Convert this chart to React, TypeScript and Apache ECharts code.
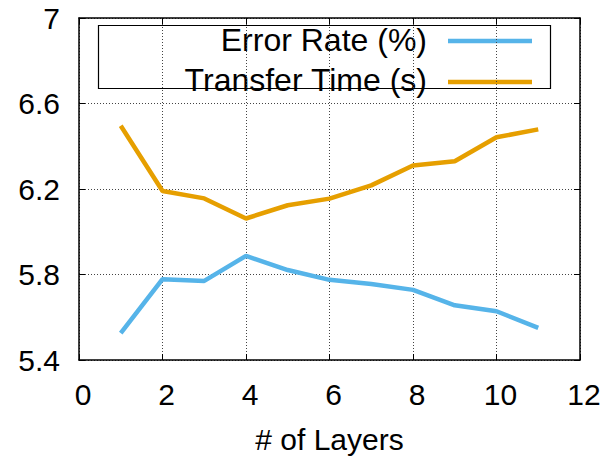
import React, { useEffect, useRef } from "react";
import * as echarts from "echarts";

const layers = [1, 2, 3, 4, 5, 6, 7, 8, 9, 10, 11];
const errorRate = [5.526, 5.778, 5.77, 5.887, 5.821, 5.775, 5.756, 5.728, 5.656, 5.628, 5.55];
const transferTime = [6.496, 6.191, 6.156, 6.062, 6.124, 6.155, 6.217, 6.31, 6.33, 6.442, 6.479];
const seriesNames = ["Error Rate (%)", "Transfer Time (s)"];
const seriesColors = ["#56B4E9", "#E69F00"];
const xTitle = "# of Layers";

const FONT = "'Liberation Sans', Arial, Helvetica, sans-serif";

export default function App() {
  const ref = useRef<HTMLDivElement>(null);
  useEffect(() => {
    if (!ref.current) return;
    const chart = echarts.init(ref.current, undefined, { renderer: "svg" });
    const gridLine = { show: true, lineStyle: { color: "#444", type: [1, 2], width: 1 } };
    const fmtY = (v: number) => String(+v.toFixed(1));
    chart.setOption({
      animation: false,
      backgroundColor: "#fff",
      grid: { left: 79, right: 25, top: 18, bottom: 97, containLabel: false },
      xAxis: [
        {
          type: "value",
          min: 0,
          max: 12,
          interval: 2,
          position: "bottom",
          name: xTitle,
          nameLocation: "middle",
          nameGap: 64,
          nameTextStyle: { fontFamily: FONT, fontSize: 30, color: "#000" },
          axisLine: { show: true, onZero: false, lineStyle: { color: "#000", width: 1.5 } },
          axisTick: { show: true, inside: true, length: 6, lineStyle: { color: "#000" } },
          axisLabel: { fontFamily: FONT, fontSize: 30, color: "#000", margin: 19, padding: [0, 0, 0, 8] },
          splitLine: gridLine,
        },
        {
          type: "value",
          min: 0,
          max: 12,
          interval: 2,
          position: "top",
          axisLine: { show: true, onZero: false, lineStyle: { color: "#000", width: 1.5 } },
          axisTick: { show: true, inside: true, length: 6, lineStyle: { color: "#000" } },
          axisLabel: { show: false },
          splitLine: { show: false },
        },
      ],
      yAxis: [
        {
          type: "value",
          min: 5.4,
          max: 7,
          interval: 0.4,
          position: "left",
          axisLine: { show: true, onZero: false, lineStyle: { color: "#000", width: 1.5 } },
          axisTick: { show: true, inside: true, length: 6, lineStyle: { color: "#000" } },
          axisLabel: { fontFamily: FONT, fontSize: 30, color: "#000", margin: 19, formatter: fmtY },
          splitLine: gridLine,
        },
        {
          type: "value",
          min: 5.4,
          max: 7,
          interval: 0.4,
          position: "right",
          axisLine: { show: true, onZero: false, lineStyle: { color: "#000", width: 1.5 } },
          axisTick: { show: true, inside: true, length: 6, lineStyle: { color: "#000" } },
          axisLabel: { show: false },
          splitLine: { show: false },
        },
      ],
      series: [
        {
          name: seriesNames[0],
          type: "line",
          data: layers.map((x, i) => [x, errorRate[i]]),
          showSymbol: false,
          lineStyle: { color: seriesColors[0], width: 4.5 },
          itemStyle: { color: seriesColors[0] },
          z: 3,
        },
        {
          name: seriesNames[1],
          type: "line",
          data: layers.map((x, i) => [x, transferTime[i]]),
          showSymbol: false,
          lineStyle: { color: seriesColors[1], width: 4.5 },
          itemStyle: { color: seriesColors[1] },
          z: 3,
        },
      ],
      graphic: [
        {
          type: "group",
          z: 100,
          children: [
            {
              type: "rect",
              shape: { x: 98.5, y: 25.5, width: 452, height: 63 },
              style: { fill: "#fff", stroke: "#000", lineWidth: 1.2 },
            },
            {
              type: "text",
              x: 427,
              y: 40,
              style: {
                text: seriesNames[0],
                font: `32px ${FONT}`,
                fill: "#000",
                align: "right",
                verticalAlign: "middle",
              },
            },
            {
              type: "text",
              x: 427,
              y: 80,
              style: {
                text: seriesNames[1],
                font: `32px ${FONT}`,
                fill: "#000",
                align: "right",
                verticalAlign: "middle",
              },
            },
            {
              type: "line",
              shape: { x1: 448, y1: 41, x2: 532, y2: 41 },
              style: { stroke: seriesColors[0], lineWidth: 4.5 },
            },
            {
              type: "line",
              shape: { x1: 448, y1: 82, x2: 532, y2: 82 },
              style: { stroke: seriesColors[1], lineWidth: 4.5 },
            },
          ],
        },
      ],
    });
    return () => chart.dispose();
  }, []);
  return <div ref={ref} style={{ width: 605, height: 459, position: "fixed", left: 0, top: 0 }} />;
}
